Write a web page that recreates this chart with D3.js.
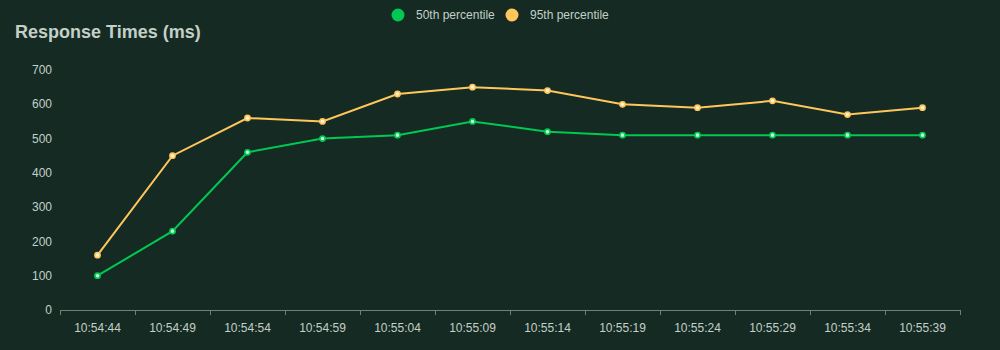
<!DOCTYPE html>
<html><head><meta charset="utf-8">
<script src="https://cdn.jsdelivr.net/npm/d3@7"></script>
<style>
html,body{margin:0;padding:0;background:#152a22;}
svg{display:block;font-family:"Liberation Sans",Arial,sans-serif;}
</style></head>
<body><svg id="c" width="1000" height="350"></svg>
<script>
const categories = ["10:54:44","10:54:49","10:54:54","10:54:59","10:55:04","10:55:09","10:55:14","10:55:19","10:55:24","10:55:29","10:55:34","10:55:39"];
const p50 = [100,230,460,500,510,550,520,510,510,510,510,510];
const p95 = [160,450,560,550,630,650,640,600,590,610,570,590];
const yTicks = [0,100,200,300,400,500,600,700];
const seriesNames = ["50th percentile","95th percentile"];
const colors = ["#00c853","#ffc65c"];

const svg = d3.select("#c");
svg.append("rect").attr("width",1000).attr("height",350).attr("fill","#152a22");
const x = d3.scaleBand().domain(categories).range([60,960]);
const y = d3.scaleLinear().domain([0,700]).range([310,70]);

svg.append("text").attr("x",15).attr("y",38).text("Response Times (ms)")
  .attr("fill","#c3d0c8").attr("font-size",18).attr("font-weight","bold");

// y labels
svg.append("g").selectAll("text").data(yTicks).join("text")
  .attr("x",52).attr("y",d=>y(d)).attr("dy","0.35em").attr("text-anchor","end")
  .attr("fill","#c3d0c8").attr("font-size",12).text(d=>d);

// x axis
const xa = svg.append("g").attr("transform","translate(0,310)")
  .call(d3.axisBottom(x).tickSizeOuter(0).tickSize(0));
xa.select(".domain").attr("stroke","#6f8278").attr("stroke-width",1);
xa.selectAll("text").attr("fill","#c3d0c8").attr("font-size",12).attr("dy","1.55em")
  .attr("font-family","Liberation Sans, Arial, sans-serif");
// boundary ticks
const bounds = categories.map(c=>x(c)).concat([x.range()[1]]);
svg.append("g").selectAll("line").data(bounds).join("line")
  .attr("x1",d=>d+0.5).attr("x2",d=>d+0.5).attr("y1",310).attr("y2",315)
  .attr("stroke","#6f8278");

const line = d3.line().x((d,i)=>x(categories[i])+x.bandwidth()/2).y(d=>y(d));
[p50,p95].forEach((s,k)=>{
  svg.append("path").datum(s).attr("d",line).attr("fill","none")
    .attr("stroke",colors[k]).attr("stroke-width",2);
  svg.append("g").selectAll("circle").data(s).join("circle")
    .attr("cx",(d,i)=>x(categories[i])+x.bandwidth()/2).attr("cy",d=>y(d))
    .attr("r",2.6).attr("fill",k===0?"#c8f5d8":"#fff2d6").attr("stroke",colors[k]).attr("stroke-width",1.6);
});

// legend
const lg = [{cx:398,tx:416},{cx:512,tx:530}];
seriesNames.forEach((n,k)=>{
  svg.append("circle").attr("cx",lg[k].cx).attr("cy",15).attr("r",6.5).attr("fill",colors[k]);
  svg.append("text").attr("x",lg[k].tx).attr("y",15).attr("dy","0.35em")
    .attr("fill","#c3d0c8").attr("font-size",12).text(n);
});
</script></body></html>
